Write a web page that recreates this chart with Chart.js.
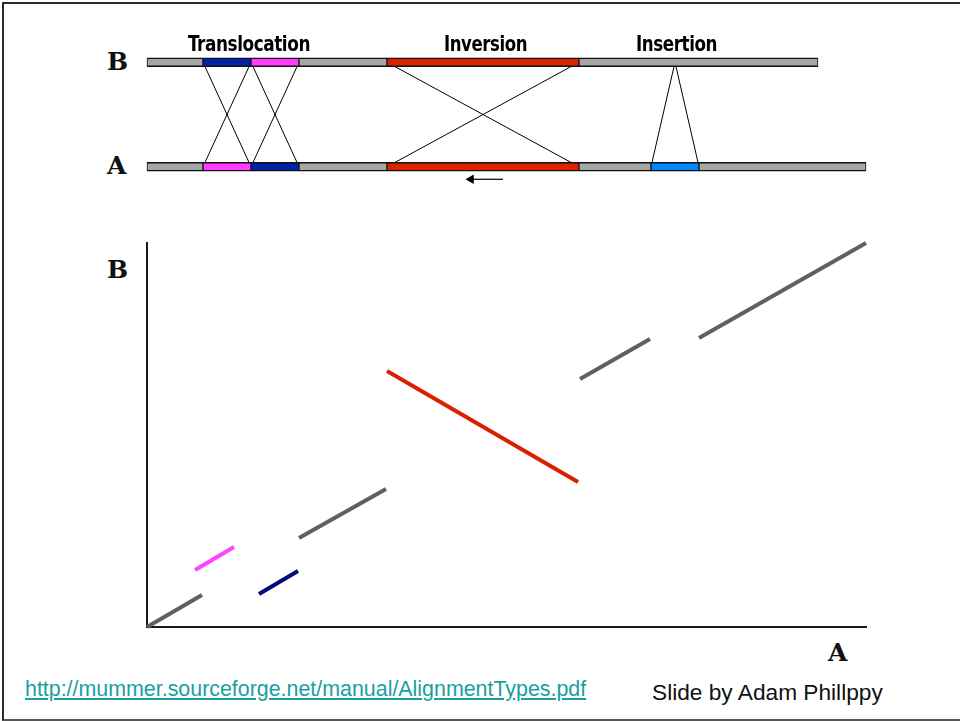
<!DOCTYPE html>
<html>
<head>
<meta charset="utf-8">
<script src="https://cdn.jsdelivr.net/npm/chart.js@4.4.1/dist/chart.umd.min.js"></script>
<style>
  body { margin: 0; background: #fff; }
  #slide { position: relative; width: 960px; height: 721px; overflow: hidden; background: #fff; }
  #frame { position: absolute; left: 2px; top: 2px; width: 970px; height: 715px;
           border-top: 2px solid #2b2b2b; border-left: 2px solid #2b2b2b; border-bottom: 2px solid #555; }
  .lbl { position: absolute; line-height: 1; white-space: nowrap; }
  .mono { font-family: "DejaVu Serif", serif; font-weight: bold; font-size: 25px; color: #111; }
  .title { font-family: "DejaVu Sans Condensed", "DejaVu Sans", sans-serif; font-weight: bold; font-size: 22px; color: #000;
           transform-origin: left top; letter-spacing: -0.5px; }
  .foot { font-family: "Liberation Sans", Arial, sans-serif; }
  canvas { position: absolute; }
</style>
</head>
<body>
<div id="slide">
  <div id="frame"></div>
  <canvas id="genomeChart" style="left:142px; top:10px;" width="729" height="209"></canvas>
  <canvas id="dotChart" style="left:137px; top:233px;" width="739" height="404"></canvas>

  <div class="lbl mono" style="left:107px; top:49px;">B</div>
  <div class="lbl mono" style="left:107px; top:153px;">A</div>
  <div class="lbl mono" style="left:107px; top:257px;">B</div>
  <div class="lbl mono" style="left:828px; top:640px;">A</div>

  <div class="lbl title" data-w="122" style="left:188px; top:33px;">Translocation</div>
  <div class="lbl title" data-w="83" style="left:444px; top:33px;">Inversion</div>
  <div class="lbl title" data-w="81" style="left:636px; top:33px;">Insertion</div>

  <div class="lbl foot" style="left:25px; top:679px; font-size:21.4px; color:#1a9fa0; text-decoration:underline;">http://mummer.sourceforge.net/manual/AlignmentTypes.pdf</div>
  <div class="lbl foot" style="left:652px; top:681px; font-size:22.7px; color:#111;">Slide by Adam Phillppy</div>
</div>

<script>
// --- genome bars (top diagram), positions along each sequence ---
const rowB = 1;
const rowA = 0;
const bStarts = [0, 56, 104, 152, 240, 432];
const bEnds   = [56, 104, 152, 240, 432, 671];
const bColors = ['#a6a6a6', '#0022a8', '#ff3cff', '#a6a6a6', '#dd2200', '#a6a6a6'];
const aStarts = [0, 56, 104, 152, 240, 432, 504, 552];
const aEnds   = [56, 104, 152, 240, 432, 504, 552, 719];
const aColors = ['#a6a6a6', '#ff3cff', '#0022a8', '#a6a6a6', '#dd2200', '#a6a6a6', '#0088ff', '#a6a6a6'];

// connectors: position on B -> position on A
const linkFromB = [56, 104, 104, 152, 240, 432, 528, 528];
const linkToA   = [104, 152, 56, 104, 432, 240, 504, 552];

// arrow under the inverted block (from -> to along A)
const arrowFrom = 356;
const arrowTo = 324;
const arrowRow = -0.12;

// --- dot plot alignment segments (A position, B position) ---
const segNames = ['fwd1', 'transPink', 'transBlue', 'fwd2', 'inversion', 'fwd3', 'fwd4'];
const segAStart = [0, 48, 112, 152, 240, 433, 552];
const segAEnd   = [55, 87, 151, 239, 431, 503, 719];
const segBStart = [0, 57, 33, 89, 256, 248, 289];
const segBEnd   = [32, 80, 56, 138, 145, 288, 384];
const segColors = ['#606060', '#ff44ff', '#000a7a', '#606060', '#d92000', '#606060', '#606060'];

const barBorder = { top: 1.5, bottom: 1.5, left: 1, right: 1 };

function rowDataset(row, starts, ends, colors) {
    return {
        type: 'bar',
        data: starts.map((s, i) => ({ x: [s, ends[i]], y: row })),
        backgroundColor: colors,
        borderColor: '#111',
        borderWidth: barBorder,
        borderSkipped: false,
        barThickness: 9,
        grouped: false,
        order: 1
    };
}

const linkDatasets = linkFromB.map((b, i) => ({
    type: 'line',
    indexAxis: 'x',
    data: [{ x: b, y: rowB }, { x: linkToA[i], y: rowA }],
    borderColor: '#000',
    borderWidth: 1,
    pointRadius: 0,
    order: 2
}));

const arrowDataset = {
    type: 'line',
    indexAxis: 'x',
    data: [{ x: arrowFrom, y: arrowRow }, { x: arrowTo, y: arrowRow }],
    borderColor: '#000',
    borderWidth: 1.2,
    pointStyle: 'triangle',
    pointRadius: [0, 5.5],
    pointRotation: -90,
    pointBackgroundColor: '#000',
    pointBorderWidth: 0,
    order: 0
};

new Chart(document.getElementById('genomeChart').getContext('2d'), {
    type: 'bar',
    data: {
        datasets: [rowDataset(rowB, bStarts, bEnds, bColors), rowDataset(rowA, aStarts, aEnds, aColors), ...linkDatasets, arrowDataset]
    },
    options: {
        indexAxis: 'y',
        responsive: false,
        animation: false,
        events: [],
        layout: { padding: 0, autoPadding: false },
        plugins: { legend: { display: false }, tooltip: { enabled: false } },
        scales: {
            x: { type: 'linear', min: -5, max: 724, offset: false, display: false },
            y: { type: 'linear', min: -0.5, max: 1.5, offset: false, display: false }
        }
    }
});

// dot plot
const segDatasets = segNames.map((name, i) => ({
    label: name,
    data: [{ x: segAStart[i], y: segBStart[i] }, { x: segAEnd[i], y: segBEnd[i] }],
    borderColor: segColors[i],
    borderWidth: 4,
    borderCapStyle: 'butt',
    pointRadius: 0,
    clip: false
}));

const hiddenAxis = {
    type: 'linear',
    grid: { display: false, drawTicks: false },
    ticks: { display: false },
    border: { display: true, color: '#1a1a1a', width: 2 }
};

new Chart(document.getElementById('dotChart').getContext('2d'), {
    type: 'line',
    data: { datasets: segDatasets },
    options: {
        responsive: false,
        animation: false,
        events: [],
        layout: { padding: 10, autoPadding: false },
        plugins: { legend: { display: false }, tooltip: { enabled: false } },
        scales: {
            x: { ...hiddenAxis, min: 0, max: 719, afterFit: s => { s.height = 0; } },
            y: { ...hiddenAxis, min: 0, max: 384, afterFit: s => { s.width = 0; } }
        }
    }
});

// squeeze the condensed section titles to their width on the slide
document.querySelectorAll('.title').forEach(el => {
    const w = el.getBoundingClientRect().width;
    el.style.transform = 'scaleX(' + (Number(el.dataset.w) / w) + ')';
});
</script>
</body>
</html>
